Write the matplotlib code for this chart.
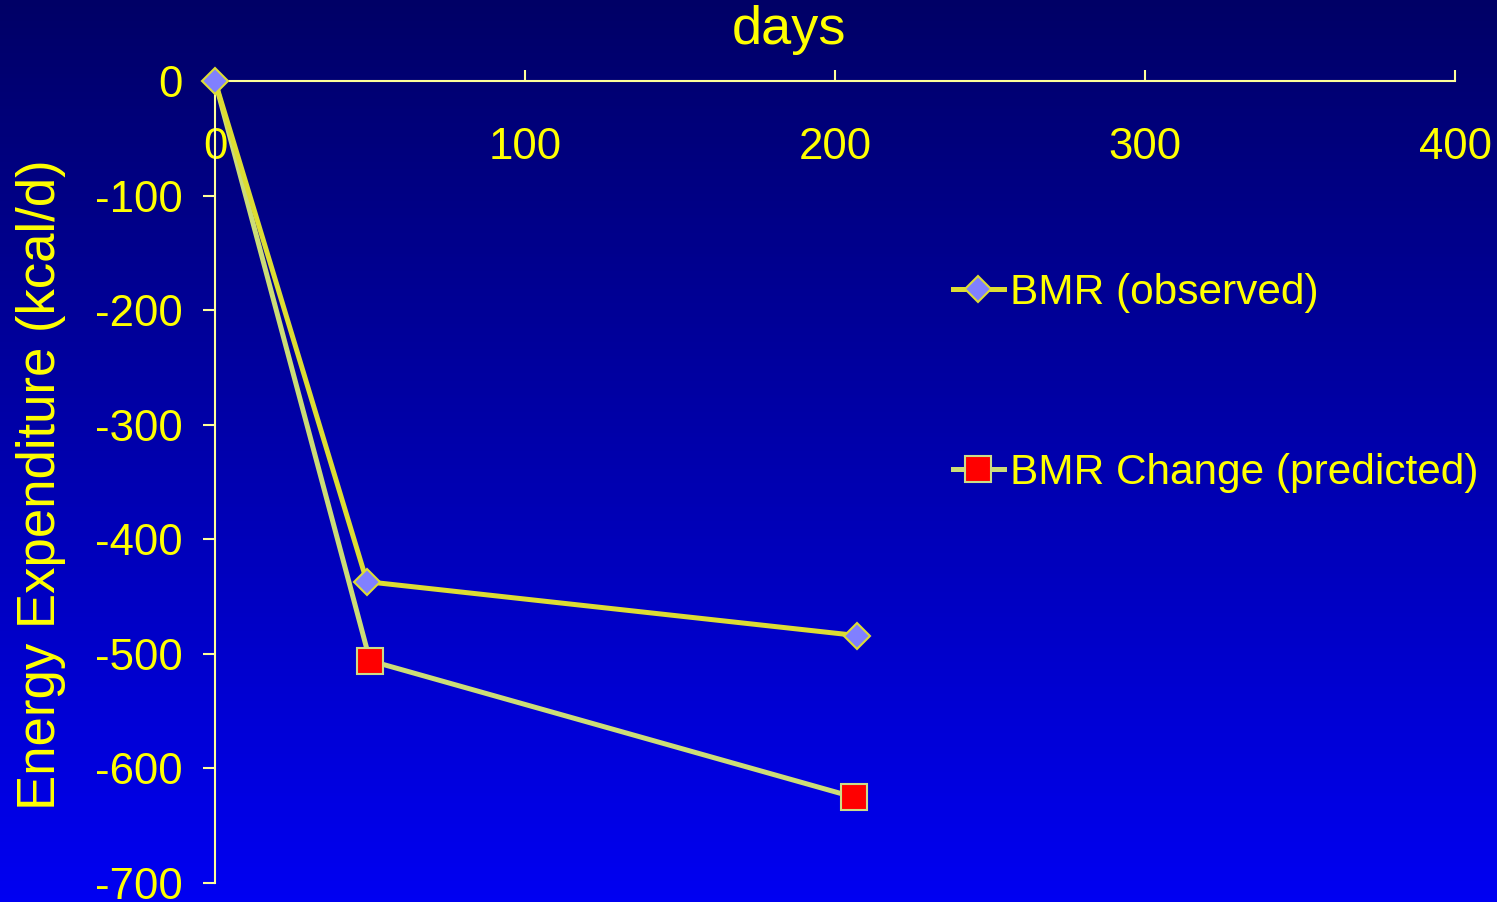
import numpy as np
import matplotlib
matplotlib.use("Agg")
import matplotlib.pyplot as plt
from matplotlib.colors import LinearSegmentedColormap

plt.rcParams['font.family'] = ['Liberation Sans', 'DejaVu Sans']

days_obs = [0, 49, 207]
bmr_obs = [0, -437, -484]
days_pred = [0, 50, 206]
bmr_pred = [0, -506, -625]
series_labels = ["BMR (observed)", "BMR Change (predicted)"]
x_ticks = [0, 100, 200, 300, 400]
y_ticks = [0, -100, -200, -300, -400, -500, -600, -700]

W, H = 1497, 902
fig = plt.figure(figsize=(W / 100, H / 100), dpi=100)

# gradient background
bg = fig.add_axes([0, 0, 1, 1], zorder=-10)
cmap = LinearSegmentedColormap.from_list("bg", ["#000066", "#0000F2"])
grad = np.linspace(0, 1, 256).reshape(-1, 1)
bg.imshow(grad, aspect='auto', cmap=cmap, extent=[0, 1, 0, 1], origin='upper')
bg.axis('off')

ax = fig.add_axes([215 / W, 1 - 883 / H, (1455 - 215) / W, (883 - 81) / H])
ax.patch.set_alpha(0)

yellow = "#FFFF00"
axis_col = "#FFFF99"

ax.plot(days_pred, bmr_pred, color="#CCDD77", lw=3.6, marker='s', ms=18.5,
        mfc="#FF0000", mec="#CCDD88", mew=1.5, label=series_labels[1],
        markevery=[1, 2], zorder=3, clip_on=False)
ax.plot(days_obs, bmr_obs, color="#DDDD33", lw=3.6, marker='D', ms=13.5,
        mfc="#8080FF", mec="#DDDD33", mew=1.5, label=series_labels[0],
        zorder=4, clip_on=False)

ax.set_xlim(0, 400)
ax.set_ylim(-700, 0)
ax.set_xticks(x_ticks)
ax.set_yticks(y_ticks)
ax.set_xticklabels([str(v) for v in x_ticks])
ax.set_yticklabels([str(v) for v in y_ticks])

for s in ['right', 'top']:
    ax.spines[s].set_visible(False)
ax.spines['bottom'].set_position(('data', 0))
ax.spines['bottom'].set_color(axis_col)
ax.spines['left'].set_color(axis_col)
ax.spines['bottom'].set_linewidth(1.5)
ax.spines['left'].set_linewidth(1.5)
ax.spines['bottom'].set_zorder(2)

ax.tick_params(axis='x', direction='in', length=8, width=1.5, color=axis_col,
               labelcolor=yellow, labelsize=31.5, pad=33)
ax.tick_params(axis='y', direction='out', length=9, width=1.5, color=axis_col,
               labelcolor=yellow, labelsize=31.5, pad=14)

fig.text(789 / W, 1 - 30 / H, "days", color=yellow, fontsize=39,
         ha='center', va='center')
fig.text(41 / W, 1 - 485 / H, "Energy Expenditure (kcal/d)", color=yellow,
         fontsize=38, rotation=90, ha='center', va='center')

handles, labels = ax.get_legend_handles_labels()
leg = ax.legend(handles[::-1], labels[::-1], loc='upper left',
                bbox_to_anchor=(953 / W, 1 - 273 / H), bbox_transform=fig.transFigure,
                frameon=False, fontsize=30.5, labelspacing=3.3, handlelength=1.2,
                handletextpad=0.15, borderaxespad=0, borderpad=0)
for t in leg.get_texts():
    t.set_color(yellow)

fig.savefig("out.png", dpi=100)
